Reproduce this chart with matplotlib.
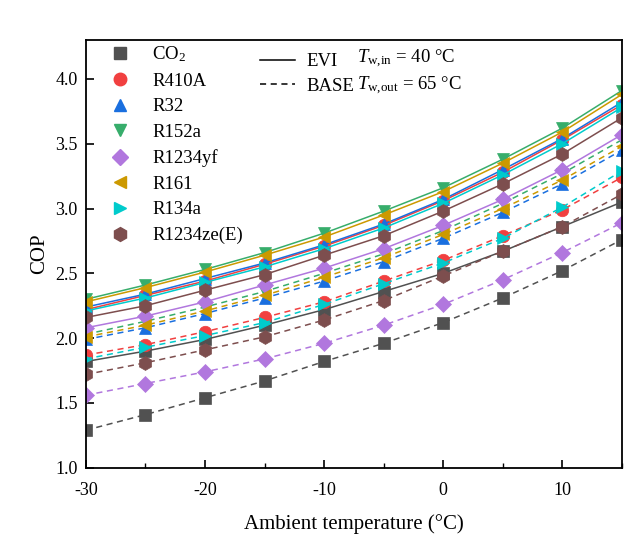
import matplotlib.pyplot as plt
from matplotlib.lines import Line2D

plt.rcParams['font.family'] = ['Liberation Serif', 'DejaVu Serif']
plt.rcParams['mathtext.fontset'] = 'custom'
plt.rcParams['mathtext.rm'] = 'Liberation Serif'
plt.rcParams['mathtext.it'] = 'Liberation Serif:italic'
plt.rcParams['axes.unicode_minus'] = False

t_amb = [-30, -25, -20, -15, -10, -5, 0, 5, 10, 15]

names = ['CO$_2$', 'R410A', 'R32', 'R152a', 'R1234yf', 'R161', 'R134a', 'R1234ze(E)']

# COP with economizer vapour injection
cop_evi = [
    [1.82, 1.90, 1.99, 2.10, 2.22, 2.36, 2.50, 2.67, 2.86, 3.05],
    [2.22, 2.33, 2.44, 2.57, 2.71, 2.87, 3.06, 3.28, 3.53, 3.80],
    [2.24, 2.34, 2.46, 2.58, 2.72, 2.88, 3.07, 3.30, 3.54, 3.82],
    [2.30, 2.41, 2.53, 2.66, 2.81, 2.98, 3.16, 3.38, 3.62, 3.91],
    [2.08, 2.17, 2.28, 2.41, 2.54, 2.69, 2.87, 3.07, 3.30, 3.57],
    [2.28, 2.39, 2.51, 2.64, 2.78, 2.95, 3.13, 3.35, 3.59, 3.88],
    [2.21, 2.31, 2.43, 2.55, 2.69, 2.85, 3.04, 3.26, 3.50, 3.78],
    [2.16, 2.25, 2.37, 2.49, 2.64, 2.79, 2.98, 3.19, 3.42, 3.70],
]

# COP of the base cycle
cop_base = [
    [1.29, 1.41, 1.54, 1.67, 1.82, 1.96, 2.12, 2.31, 2.52, 2.76],
    [1.87, 1.95, 2.05, 2.16, 2.28, 2.44, 2.60, 2.79, 2.99, 3.24],
    [1.99, 2.08, 2.19, 2.31, 2.44, 2.59, 2.77, 2.97, 3.19, 3.45],
    [2.03, 2.13, 2.24, 2.36, 2.50, 2.65, 2.83, 3.04, 3.27, 3.53],
    [1.56, 1.65, 1.74, 1.84, 1.96, 2.10, 2.26, 2.45, 2.66, 2.89],
    [2.01, 2.10, 2.21, 2.33, 2.47, 2.62, 2.80, 3.00, 3.22, 3.48],
    [1.84, 1.93, 2.02, 2.12, 2.26, 2.42, 2.58, 2.77, 3.01, 3.29],
    [1.72, 1.81, 1.91, 2.01, 2.14, 2.29, 2.48, 2.67, 2.86, 3.11],
]

colors = ['#515151', '#F14040', '#1A6FDF', '#37AD6B', '#B177DE', '#CC9900', '#00CBCC', '#7D4E4E']
markers = ['s', 'o', '^', 'v', 'D', '<', '>', 'h']
msizes = [8, 9, 9, 9, 8, 9, 9, 10]

fig = plt.figure(figsize=(6.41, 5.34), dpi=100)
ax = fig.add_axes([0.134, 0.124, 0.836, 0.801])

for i in range(len(names)):
    ax.plot(t_amb, cop_evi[i], color=colors[i], lw=1.1, ls='-',
            marker=markers[i], ms=msizes[i], mec=colors[i], mew=0.5)
    ax.plot(t_amb, cop_base[i], color=colors[i], lw=1.1, ls=(0, (4, 3)),
            marker=markers[i], ms=msizes[i], mec=colors[i], mew=0.5)

ax.set_xlim(-30, 15)
ax.set_ylim(1.0, 4.3)
ax.set_xticks([-30, -20, -10, 0, 10])
ax.set_xticks([-25, -15, -5, 5, 15], minor=True)
ax.set_yticks([1.0, 1.5, 2.0, 2.5, 3.0, 3.5, 4.0])
ax.tick_params(axis='both', which='major', direction='in', length=6, width=1.2, labelsize=13)
ax.tick_params(axis='x', which='major', pad=10)
ax.tick_params(axis='y', which='major', pad=6)
ax.tick_params(axis='x', which='minor', direction='in', length=3.5, width=1)
for s in ax.spines.values():
    s.set_linewidth(1.3)

ax.set_xlabel('Ambient temperature (°C)', fontsize=15, labelpad=11)
ax.set_ylabel('COP', fontsize=15)

# refrigerant legend (markers only)
handles = [Line2D([], [], ls='none', marker=markers[i], color=colors[i], ms=msizes[i])
           for i in range(len(names))]
leg1 = ax.legend(handles, names, loc='upper left', bbox_to_anchor=(0.005, 1.02),
                 frameon=False, fontsize=13.5, labelspacing=0.45, handletextpad=0.7,
                 borderaxespad=0.3)
ax.add_artist(leg1)

# line style legend
style_handles = [Line2D([], [], color='black', lw=1.1, ls='-'),
                 Line2D([], [], color='black', lw=1.1, ls=(0, (4, 3)))]
ax.legend(style_handles, ['EVI', 'BASE'], loc='upper left', bbox_to_anchor=(0.30, 1.0),
          frameon=False, fontsize=13.5, labelspacing=0.4, handlelength=1.9,
          handletextpad=0.6, borderaxespad=0.3)

ax.text(0.505, 0.955, r'$T_{\text{w,in}}$ = 40 °C', transform=ax.transAxes, fontsize=13.5, va='center')
ax.text(0.505, 0.892, r'$T_{\text{w,out}}$ = 65 °C', transform=ax.transAxes, fontsize=13.5, va='center')

fig.savefig('out.png', dpi=100)
